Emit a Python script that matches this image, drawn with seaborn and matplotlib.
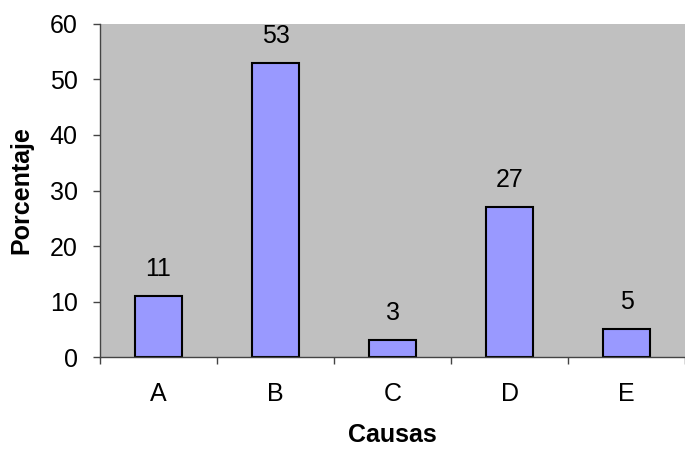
import matplotlib
matplotlib.use("Agg")
import matplotlib.pyplot as plt
import pandas as pd
import seaborn as sns

causas = ["A", "B", "C", "D", "E"]
porcentaje = [11, 53, 3, 27, 5]

sns.set_theme(style="white", rc={"text.color": "black", "axes.labelcolor": "black",
                                 "xtick.color": "black", "ytick.color": "black"})
plt.rcParams["font.family"] = ["Liberation Sans", "DejaVu Sans"]

df = pd.DataFrame({"Causas": causas, "Porcentaje": porcentaje})

fig = plt.figure(figsize=(6.85, 4.51), dpi=100)
ax = fig.add_axes([0.146, 0.2084, 0.854, 0.7384])
ax.set_facecolor("#c0c0c0")

sns.barplot(data=df, x="Causas", y="Porcentaje", color="#9999ff",
            saturation=1, width=0.41, edgecolor="black", linewidth=1.5, ax=ax)

# value labels above each bar
for p, v in zip(ax.patches, porcentaje):
    ax.annotate(str(v), (p.get_x() + p.get_width() / 2, v), xytext=(0, 11),
                textcoords="offset points", ha="center", va="bottom", fontsize=18)

ax.set_xlim(-0.5, 4.5)
ax.set_ylim(0, 60)
ax.set_yticks(range(0, 61, 10))
ax.set_xticks(range(5))
ax.set_xticklabels(causas)
ax.set_xticks([i - 0.5 for i in range(6)], minor=True)
ax.tick_params(axis="x", which="major", length=0, pad=18, labelsize=18)
ax.tick_params(axis="x", which="minor", length=5, width=1, color="#444444", bottom=True)
ax.tick_params(axis="y", length=5, width=1, color="#444444", left=True, labelsize=18, pad=11)

for s in ["top", "right"]:
    ax.spines[s].set_visible(False)
for s in ["left", "bottom"]:
    ax.spines[s].set_color("#444444")
    ax.spines[s].set_linewidth(1)

ax.set_xlabel("Causas", fontsize=18, fontweight="bold", labelpad=12)
ax.set_ylabel("Porcentaje", fontsize=18, fontweight="bold", labelpad=12)

fig.savefig("out.png", dpi=100)
